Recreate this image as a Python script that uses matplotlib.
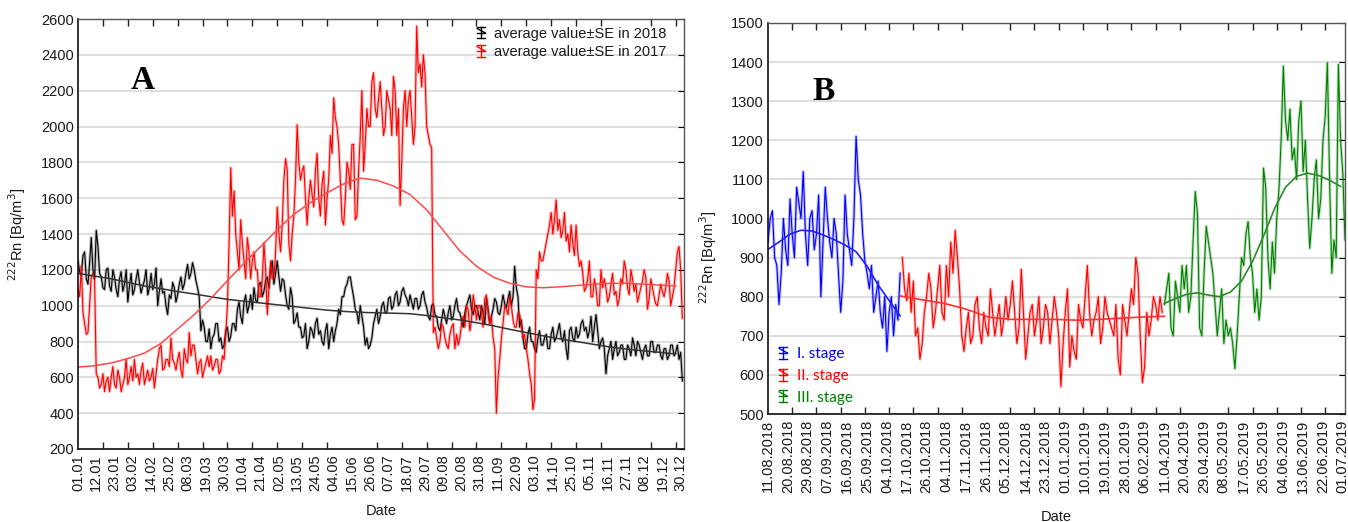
import numpy as np
import matplotlib
matplotlib.use('Agg')
import matplotlib.pyplot as plt
from matplotlib.legend_handler import HandlerBase
from matplotlib.lines import Line2D

# ---------------- Panel A data (daily, day of year 0..364) ----------------
rn_2018 = [1250, 1190, 1170, 1280, 1300, 1150, 1120, 1240, 1380, 1200,
           1150, 1420, 1330, 1180, 1160, 1100, 1090, 1200, 1210, 1110,
           1080, 1200, 1160, 1090, 1050, 1150, 1190, 1080, 1120, 1200,
           1020, 1110, 1180, 1060, 1090, 1150, 1200, 1130, 1070, 1110,
           1140, 1200, 1060, 1100, 1180, 1090, 1120, 1210, 1000, 1080,
           1150, 1070, 1080, 1000, 950, 1060, 1040, 1130, 1100, 1020,
           1060, 1120, 1160, 1090, 1120, 1180, 1230, 1150, 1180, 1240,
           1200, 1140, 1100, 1050, 860, 920, 880, 800, 800, 870,
           760, 820, 840, 900, 900, 800, 820, 760, 780, 860,
           880, 800, 830, 900, 900, 860, 980, 1020, 940, 900,
           1020, 1060, 960, 1000, 1060, 980, 1100, 1030, 1020, 1120,
           1130, 1050, 1080, 1140, 1160, 1100, 1200, 1250, 1120, 1180,
           1250, 1160, 1080, 1150, 1140, 1060, 1000, 980, 1100, 1050,
           900, 920, 960, 880, 880, 820, 830, 900, 760, 800,
           880, 860, 820, 900, 930, 840, 860, 800, 780, 860,
           900, 760, 840, 880, 800, 860, 900, 980, 950, 1050,
           1050, 1100, 1120, 1160, 1160, 1100, 1050, 980, 960, 900,
           1000, 940, 880, 780, 820, 760, 780, 820, 900, 940,
           980, 900, 940, 1000, 1020, 960, 960, 1040, 1050, 980,
           1000, 1060, 1080, 1000, 1020, 1080, 1100, 1060, 1040, 1000,
           1060, 1020, 980, 1040, 1040, 980, 1000, 1060, 1080, 1020,
           990, 940, 920, 1000, 1010, 950, 940, 880, 860, 920,
           980, 940, 900, 960, 1000, 920, 940, 1000, 1040, 970,
           960, 920, 880, 960, 1000, 1030, 1060, 980, 950, 1000,
           1000, 960, 920, 1000, 960, 900, 1040, 980, 900, 940,
           980, 1040, 1020, 960, 950, 1000, 1060, 1010, 990, 1040,
           1080, 1000, 1050, 1220, 1100, 1050, 880, 920, 820, 760,
           760, 840, 880, 800, 800, 760, 740, 820, 860, 780,
           780, 820, 840, 760, 760, 840, 880, 800, 820, 860,
           900, 820, 800, 860, 760, 700, 860, 880, 820, 800,
           880, 820, 840, 900, 920, 860, 880, 820, 860, 940,
           800, 880, 950, 860, 760, 800, 820, 760, 620, 720,
           760, 800, 700, 760, 800, 720, 740, 780, 780, 700,
           700, 780, 760, 720, 820, 780, 720, 800, 780, 740,
           700, 760, 780, 720, 720, 800, 800, 740, 740, 780,
           780, 720, 700, 760, 760, 700, 720, 780, 780, 720,
           740, 780, 700, 740, 580]
rn_2017 = [1100, 1050, 1220, 960, 900, 840, 850, 1000, 1160, 1180,
           1140, 620, 600, 540, 560, 620, 520, 580, 600, 520,
           600, 660, 560, 540, 640, 600, 520, 560, 600, 700,
           560, 600, 660, 580, 700, 600, 620, 560, 640, 680,
           560, 600, 640, 580, 600, 650, 540, 620, 700, 760,
           780, 640, 650, 700, 700, 660, 820, 700, 680, 640,
           700, 740, 640, 600, 760, 700, 680, 850, 720, 780,
           780, 700, 620, 680, 700, 600, 640, 680, 720, 660,
           720, 640, 660, 700, 700, 620, 640, 720, 700, 840,
           1000, 1350, 1770, 1500, 1640, 1400, 1300, 1200, 1480, 1350,
           1250, 1150, 1380, 1300, 1150, 1250, 1300, 1200, 1200, 1050,
           1050, 1150, 1350, 1200, 950, 1100, 1250, 1150, 1150, 1300,
           1550, 1400, 1300, 1450, 1700, 1820, 1760, 1350, 1250, 1400,
           1500, 1700, 2010, 1800, 1700, 1750, 1780, 1600, 1450, 1600,
           1700, 1620, 1550, 1750, 1850, 1600, 1500, 1680, 1750, 1450,
           1600, 1700, 1950, 1850, 2160, 2050, 2000, 1900, 1700, 1480,
           1450, 1600, 1800, 1750, 1650, 1900, 1900, 1480, 1500, 1750,
           1950, 2200, 1750, 1900, 2100, 2000, 2000, 2250, 2300, 2100,
           2050, 2150, 2250, 2100, 1950, 2000, 2200, 2150, 2100, 1950,
           2280, 2200, 1950, 2100, 1560, 1800, 2100, 2200, 2000, 2150,
           2200, 2050, 1900, 2000, 2560, 2300, 2350, 2220, 2400, 2300,
           2000, 1950, 1900, 1880, 850, 880, 820, 760, 800, 900,
           880, 820, 780, 760, 840, 880, 900, 760, 840, 780,
           820, 900, 940, 880, 1000, 980, 860, 920, 1060, 1000,
           920, 1000, 1000, 960, 880, 1040, 1060, 960, 900, 940,
           820, 760, 400, 600, 700, 820, 900, 1000, 980, 950,
           1050, 1000, 920, 880, 880, 960, 950, 900, 820, 840,
           760, 700, 620, 560, 420, 480, 1200, 1150, 1300, 1250,
           1250, 1300, 1350, 1400, 1450, 1520, 1400, 1480, 1590, 1420,
           1480, 1380, 1420, 1520, 1360, 1400, 1300, 1450, 1350, 1280,
           1450, 1300, 1220, 1250, 1180, 1080, 1100, 1150, 1250, 1050,
           1050, 1150, 1100, 1000, 1000, 1200, 1100, 1150, 1100, 1020,
           1050, 1120, 1180, 1060, 1080, 1000, 1040, 1150, 1120, 1250,
           1200, 1100, 1060, 1200, 1150, 1080, 1120, 1020, 1060, 1100,
           1140, 1200, 1160, 980, 1040, 1150, 1100, 1050, 1010, 1000,
           1060, 1120, 1080, 1050, 1100, 1180, 1140, 1000, 1050, 1100,
           1200, 1300, 1330, 1200, 930]
a_fit_step = 10
fit_2018 = [1180, 1165, 1150, 1130, 1110, 1095, 1079, 1065, 1050, 1035,
            1025, 1015, 1005, 995, 985, 975, 968, 963, 960, 958,
            955, 945, 932, 920, 905, 888, 868, 850, 832, 815,
            800, 785, 770, 758, 748, 740, 730]
fit_2017 = [657, 665, 680, 705, 735, 790, 870, 950, 1040, 1140,
            1237, 1330, 1423, 1510, 1575, 1630, 1680, 1712, 1700, 1668,
            1620, 1535, 1420, 1305, 1220, 1160, 1125, 1105, 1100, 1105,
            1112, 1120, 1125, 1125, 1120, 1115, 1110]
a_labels = ['01.01', '12.01', '23.01', '03.02', '14.02', '25.02', '08.03',
            '19.03', '30.03', '10.04', '21.04', '02.05', '13.05', '24.05',
            '04.06', '15.06', '26.06', '07.07', '18.07', '29.07', '09.08',
            '20.08', '31.08', '11.09', '22.09', '03.10', '14.10', '25.10',
            '05.11', '16.11', '27.11', '08.12', '19.12', '30.12']
a_label_step = 11
a_tick_step = 15

# ---------------- Panel B data (daily case index) ----------------
stage1_start, stage2_start, stage3_start = 0, 61, 180
stage1 = [940, 1000, 1020, 900, 880, 780, 860, 1000, 920, 880,
          1050, 960, 900, 1080, 1040, 1000, 1120, 960, 880, 1000,
          1020, 920, 960, 1060, 800, 940, 1080, 1000, 940, 900,
          1000, 960, 860, 760, 840, 1060, 960, 920, 880, 1000,
          1210, 1100, 1060, 960, 890, 860, 820, 880, 760, 800,
          840, 760, 720, 800, 660, 760, 800, 700, 780, 740,
          860]
stage2 = [900, 820, 790, 860, 760, 840, 700, 720, 640, 680,
          760, 800, 860, 820, 720, 760, 820, 880, 760, 740,
          880, 800, 940, 860, 970, 900, 820, 700, 660, 720,
          760, 680, 700, 780, 800, 720, 680, 760, 720, 700,
          820, 760, 700, 740, 780, 700, 740, 800, 740, 780,
          840, 760, 680, 720, 870, 760, 640, 700, 760, 780,
          700, 740, 800, 680, 720, 780, 760, 680, 740, 800,
          760, 700, 570, 680, 760, 820, 620, 700, 660, 640,
          780, 740, 720, 800, 880, 760, 700, 740, 760, 800,
          680, 720, 800, 760, 740, 720, 700, 780, 640, 600,
          780, 740, 700, 760, 820, 780, 900, 860, 700, 580,
          620, 760, 700, 740, 800, 780, 740, 800, 760]
stage3 = [780, 820, 860, 720, 700, 840, 800, 760, 880, 820,
          880, 760, 800, 940, 1069, 1013, 720, 700, 860, 980,
          940, 900, 860, 780, 700, 760, 820, 680, 740, 700,
          720, 680, 616, 700, 800, 900, 880, 960, 992, 900,
          860, 760, 820, 740, 800, 1129, 1080, 900, 820, 940,
          860, 1000, 1073, 1200, 1390, 1250, 1200, 1280, 1150, 1180,
          1100, 1250, 1300, 1120, 1200, 1050, 924, 1000, 1100, 1150,
          1000, 1050, 1200, 1260, 1398, 1100, 860, 945, 900, 1394,
          1200, 1116, 945]
fit1_step, fit2_step, fit3_step = 5, 10, 5
fit1_start, fit2_start, fit3_start = 0, 60, 180
fit_stage1 = [921, 940, 960, 970, 968, 958, 946, 932, 915, 878, 830, 790, 751]
fit_stage2 = [802, 792, 783, 768, 748, 742, 742, 742, 740, 742, 745, 748, 750]
fit_stage3 = [783, 795, 806, 810, 804, 800, 812, 840, 890, 955, 1025, 1080,
              1108, 1116, 1110, 1098, 1082]
b_labels = ['11.08.2018', '20.08.2018', '29.08.2018', '07.09.2018', '16.09.2018',
            '25.09.2018', '04.10.2018', '17.10.2018', '26.10.2018', '04.11.2018',
            '17.11.2018', '26.11.2018', '05.12.2018', '14.12.2018', '23.12.2018',
            '01.01.2019', '10.01.2019', '19.01.2019', '28.01.2019', '06.02.2019',
            '11.04.2019', '20.04.2019', '29.04.2019', '08.05.2019', '17.05.2019',
            '26.05.2019', '04.06.2019', '13.06.2019', '22.06.2019', '01.07.2019']
b_label_step = 9
b_tick_step = 11

plt.rcParams['font.family'] = ['Liberation Sans', 'DejaVu Sans']
TXT = '#1a1a1a'
FS = 10.5


class ErrHandler(HandlerBase):
    def create_artists(self, legend, orig_handle, xdescent, ydescent,
                       width, height, fontsize, trans):
        c = orig_handle.get_color()
        x0, y0 = -xdescent, -ydescent
        cx = x0 + width / 2
        top, bot = y0 + height * 1.05, y0 - height * 0.05
        cap = width * 0.3
        mid = (top + bot) / 2
        segs = [([cx, cx], [bot, top]),
                ([cx - cap, cx + cap], [top, top]),
                ([cx - cap, cx + cap], [bot, bot]),
                ([cx - cap, cx + cap], [top - 1, mid]),
                ([cx - cap, cx + cap], [mid, mid])]
        return [Line2D(xs, ys, color=c, lw=1.0, transform=trans) for xs, ys in segs]


def series(ax, x, y, color, label=None):
    ax.plot(x, y, color=color, lw=2.2, alpha=0.25)
    ln, = ax.plot(x, y, color=color, lw=0.8, label=label)
    return ln


def style_axes(ax, ylim, ystep):
    ax.set_ylim(*ylim)
    ax.set_yticks(np.arange(ylim[0], ylim[1] + 1, ystep))
    ax.yaxis.grid(True, color='#d9d9d9', lw=1.2)
    ax.set_axisbelow(True)
    for s in ['left', 'bottom']:
        ax.spines[s].set_color('#111111')
        ax.spines[s].set_linewidth(1.2)
    for s in ['top', 'right']:
        ax.spines[s].set_color('#555555')
        ax.spines[s].set_linewidth(1.0)
    ax.tick_params(axis='y', which='major', left=False, right=True, direction='in',
                   length=4, labelsize=FS, labelcolor=TXT, pad=3)
    ax.tick_params(axis='x', which='major', bottom=False, top=False, length=0,
                   labelsize=FS, labelcolor=TXT, labelrotation=90, pad=4)
    ax.tick_params(axis='x', which='minor', bottom=True, top=True, direction='in',
                   length=5, width=1.0, color='#222222')


fig = plt.figure(figsize=(13.48, 5.22), dpi=100)

# ---------------- Panel A ----------------
axA = fig.add_axes([78 / 1348, (522 - 449) / 522, 606 / 1348, 430 / 522])
dA = np.arange(len(rn_2018))
dF = np.arange(len(fit_2018)) * a_fit_step
h18 = series(axA, dA, rn_2018, 'black', 'average value±SE in 2018')
h17 = series(axA, np.arange(len(rn_2017)), rn_2017, '#ff0000', 'average value±SE in 2017')
axA.plot(dF, fit_2018, color='#333333', lw=1.1)
axA.plot(np.arange(len(fit_2017)) * a_fit_step, fit_2017, color='#ff4a4a', lw=1.1)
axA.set_xlim(0, 365)
style_axes(axA, (200, 2600), 200)
axA.set_xticks(np.arange(len(a_labels)) * a_label_step)
axA.set_xticklabels(a_labels)
axA.set_xticks(np.arange(0, 366, a_tick_step), minor=True)
axA.set_xlabel('Date', fontsize=FS, color=TXT)
axA.xaxis.set_label_coords(0.5, -0.128)
axA.set_ylabel(r'$^{222}$Rn [Bq/m$^3$]', fontsize=FS, color=TXT)
axA.yaxis.set_label_coords(-0.082, 0.5)
axA.text(0.107, 0.858, 'A', transform=axA.transAxes, fontsize=24, fontweight='bold',
         family='Liberation Serif', ha='center', va='center', color='black')
axA.legend(handles=[h18, h17], loc='upper left', bbox_to_anchor=(0.652, 0.985),
           frameon=False, fontsize=FS, handlelength=0.9, handletextpad=0.45,
           labelspacing=0.28, borderpad=0.1, borderaxespad=0,
           handler_map={Line2D: ErrHandler()}, labelcolor=TXT)

# ---------------- Panel B ----------------
axB = fig.add_axes([768 / 1348, (522 - 414) / 522, 577 / 1348, 391 / 522])
x1 = stage1_start + np.arange(len(stage1))
x2 = stage2_start + np.arange(len(stage2))
x3 = stage3_start + np.arange(len(stage3))
h1 = series(axB, x1, stage1, '#0000ff', 'I. stage')
h2 = series(axB, x2, stage2, '#ff0000', 'II. stage')
h3 = series(axB, x3, stage3, '#008000', 'III. stage')
axB.plot(fit1_start + np.arange(len(fit_stage1)) * fit1_step, fit_stage1, color='#2020ff', lw=1.2)
axB.plot(fit2_start + np.arange(len(fit_stage2)) * fit2_step, fit_stage2, color='#ff3030', lw=1.2)
axB.plot(fit3_start + np.arange(len(fit_stage3)) * fit3_step, fit_stage3, color='#2a8a2a', lw=1.2)
axB.set_xlim(0, 262)
style_axes(axB, (500, 1500), 100)
axB.set_xticks(np.arange(len(b_labels)) * b_label_step)
axB.set_xticklabels(b_labels)
axB.set_xticks(np.arange(0, 263, b_tick_step), minor=True)
axB.set_xlabel('Date', fontsize=FS, color=TXT)
axB.xaxis.set_label_coords(0.5, -0.245)
axB.set_ylabel(r'$^{222}$Rn [Bq/m$^3$]', fontsize=FS, color=TXT)
axB.yaxis.set_label_coords(-0.085, 0.40)
axB.text(0.096, 0.826, 'B', transform=axB.transAxes, fontsize=24, fontweight='bold',
         family='Liberation Serif', ha='center', va='center', color='black')
axB.legend(handles=[h1, h2, h3], loc='lower left', bbox_to_anchor=(0.012, 0.02),
           frameon=False, handlelength=0.9, handletextpad=0.45,
           labelspacing=0.5, borderpad=0.1, borderaxespad=0,
           handler_map={Line2D: ErrHandler()}, labelcolor='linecolor',
           prop={'family': 'Lato', 'size': 11})

fig.savefig('out.png', dpi=100)
